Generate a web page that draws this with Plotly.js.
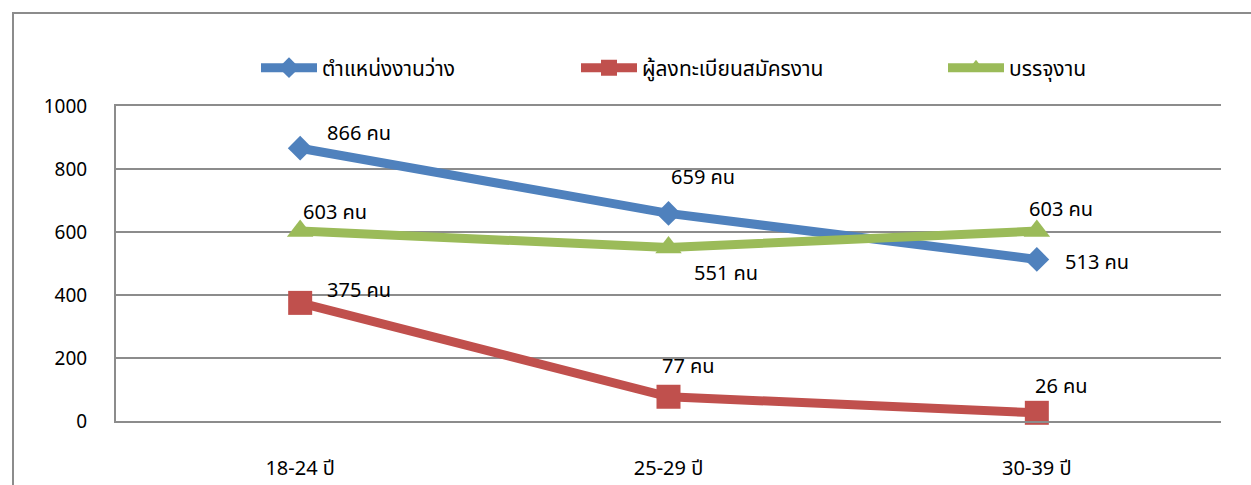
<!DOCTYPE html>
<html>
<head>
<meta charset="utf-8">
<script src="https://cdn.plot.ly/plotly-3.0.1.min.js"></script>
<style>
  html, body { margin: 0; padding: 0; background: #fff; }
  #chart { width: 1251px; height: 485px; }
</style>
</head>
<body>
<div id="chart"></div>
<script>
// ---- data ----
const categories = ["18-24 ปี", "25-29 ปี", "30-39 ปี"];
const seriesNames = ["ตำแหน่งงานว่าง", "ผู้ลงทะเบียนสมัครงาน", "บรรจุงาน"];
const vacancies = [866, 659, 513];
const applicants = [375, 77, 26];
const placements = [603, 551, 603];
const labelUnit = "คน";
const yTickVals = [0, 200, 400, 600, 800, 1000];
const yTickText = ["0", "200", "400", "600", "800", "1000"];

// ---- styles ----
const FONT = "'Noto Sans', 'Noto Sans Thai', 'DejaVu Sans', sans-serif";
const colors = ["#4F81BD", "#C0504D", "#9BBB59"];
const symbols = ["diamond", "square", "triangle-up"];
const msizes = [19, 24, 23];
const legendWidths = [249, 296, 90];
const allSeries = [vacancies, applicants, placements];
// label offsets in px (dx, dy) per series per category
const labelOffsets = [
  [[59, -16], [34, -37], [60, 2]],
  [[59, -13], [20, -31], [25, -27]],
  [[35, -20], [57, 25], [24, -23]]
];

const traces = allSeries.map((vals, i) => ({
  type: "scatter",
  mode: "lines+markers",
  name: seriesNames[i],
  x: categories,
  y: vals,
  line: { color: colors[i], width: 9 },
  marker: { symbol: symbols[i], size: msizes[i], color: colors[i] },
  legendwidth: legendWidths[i],
  cliponaxis: false,
  hoverinfo: "skip"
}));

const annotations = [];
allSeries.forEach((vals, i) => {
  vals.forEach((v, j) => {
    annotations.push({
      x: categories[j], y: v, xref: "x", yref: "y",
      text: v + " " + labelUnit,
      showarrow: false,
      xshift: labelOffsets[i][j][0],
      yshift: -labelOffsets[i][j][1],
      font: { family: FONT, size: 20, color: "#000" }
    });
  });
});

const L = 116, R = 30, T = 106, B = 64, W = 1251, H = 485;
const pw = W - L - R, ph = H - T - B;
const px = v => (v - L) / pw;
const py = v => (H - B - v) / ph;

const layout = {
  width: W, height: H,
  margin: { l: L, r: R, t: T, b: B, pad: 0 },
  paper_bgcolor: "#fff",
  plot_bgcolor: "#fff",
  font: { family: FONT, size: 19, color: "#000" },
  showlegend: true,
  legend: {
    orientation: "h",
    x: px(256), xanchor: "left",
    y: py(68), yanchor: "middle",
    font: { family: FONT, size: 21, color: "#000" },
    itemwidth: 56,
    bgcolor: "rgba(0,0,0,0)"
  },
  xaxis: {
    type: "category",
    range: [-0.5, 2.5],
    showgrid: false,
    showline: true, mirror: true,
    linecolor: "#8c8c8c", linewidth: 2,
    ticks: "",
    ticklabelstandoff: 28,
    tickfont: { family: FONT, size: 20, color: "#000" },
    fixedrange: true
  },
  yaxis: {
    range: [0, 1000],
    tickvals: yTickVals,
    ticktext: yTickText,
    showgrid: true, gridcolor: "#8c8c8c", gridwidth: 2,
    zeroline: false,
    showline: true, linecolor: "#8c8c8c", linewidth: 2,
    ticks: "",
    ticklabelstandoff: 23,
    tickfont: { family: FONT, size: 19, color: "#000" },
    fixedrange: true
  },
  annotations: annotations,
  shapes: [{
    type: "rect", xref: "paper", yref: "paper",
    x0: px(13), x1: px(1300), y0: py(540), y1: py(13),
    line: { color: "#8c8c8c", width: 2 }, fillcolor: "rgba(0,0,0,0)",
    layer: "below"
  }]
};

Plotly.newPlot("chart", traces, layout, { displayModeBar: false, staticPlot: true });
</script>
</body>
</html>
